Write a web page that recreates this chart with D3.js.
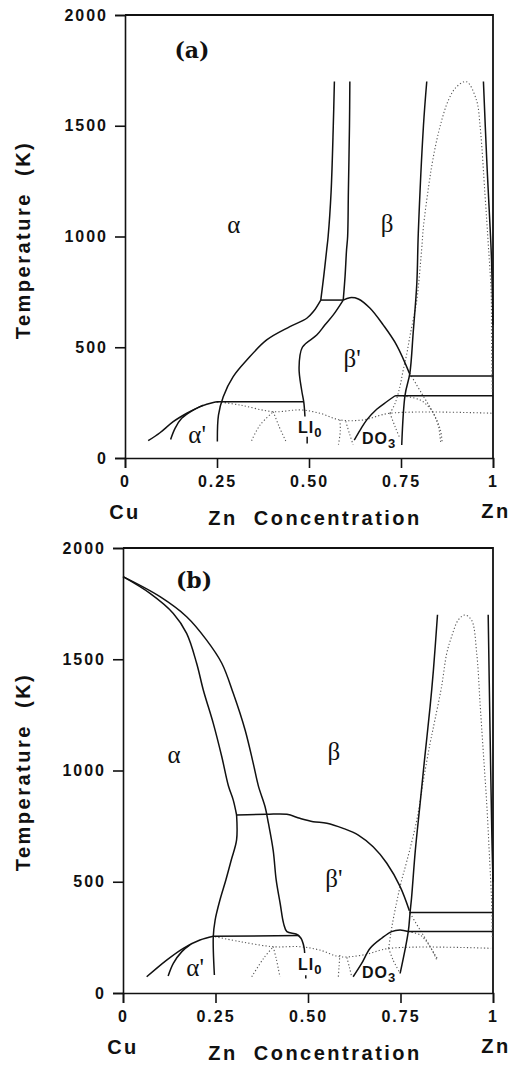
<!DOCTYPE html>
<html>
<head>
<meta charset="utf-8">
<script src="https://cdn.jsdelivr.net/npm/d3@7"></script>
<style>
  html, body { margin: 0; padding: 0; background: #fff; }
  svg { display: block; }
  .tick text { font-family: "Liberation Sans", Arial, sans-serif; font-size: 16px; font-weight: bold; letter-spacing: 2px; fill: #111; }
  .axis path, .axis line { stroke: #111; stroke-width: 1.6; }
  .frame { fill: none; stroke: #111; stroke-width: 1.8; }
  .solid { fill: none; stroke: #111; stroke-width: 1.5; }
  .dotted { fill: none; stroke: #555; stroke-width: 1.1; stroke-dasharray: 1.2,2.2; }
  .title { font-family: "Liberation Sans", Arial, sans-serif; font-weight: bold; font-size: 20px; letter-spacing: 2.5px; fill: #111; white-space: pre; }
  .greek { font-family: "Liberation Serif", "Times New Roman", serif; font-size: 25px; fill: #111; }
  .phase { font-family: "Liberation Sans", Arial, sans-serif; font-weight: bold; font-size: 16px; letter-spacing: 1px; fill: #111; }
  .panel { font-family: "DejaVu Serif", serif; font-weight: bold; font-size: 22px; fill: #111; }
</style>
</head>
<body>
<script>
// axis ticks
const tempTicks = [0, 500, 1000, 1500, 2000]
const concTicks = [0, 0.25, 0.5, 0.75, 1]
const concTickLabels = ["0", "0.25", "0.50", "0.75", "1"]

// ---- panel (a): [Zn fraction, T (K)] ----
const aBetaLeft1   = [[0.569,1700],[0.566,1500],[0.560,1200],[0.552,1000],[0.548,939],[0.540,820],[0.532,713]]
const aBetaLeft2   = [[0.611,1700],[0.610,1500],[0.607,1200],[0.605,1000],[0.602,939],[0.598,820],[0.593,713]]
const aPeritectic  = [[0.532,713],[0.593,713]]
const aAlphaLow    = [[0.532,713],[0.512,661],[0.494,631],[0.448,593],[0.385,533],[0.331,442],[0.294,367],[0.267,277],[0.254,194],[0.251,74]]
const aBpLeft      = [[0.593,713],[0.566,646],[0.543,600],[0.521,555],[0.482,500],[0.473,405],[0.480,307],[0.486,250],[0.489,187]]
const aBpTop       = [[0.593,713],[0.611,724],[0.634,718],[0.666,676],[0.702,600],[0.738,510],[0.773,382]]
const aBetaRight   = [[0.820,1700],[0.811,1500],[0.797,1015],[0.793,789],[0.783,563],[0.774,382],[0.761,284],[0.752,59]]
const aUpperH      = [[0.774,370],[1,370]]
const aLowerH      = [[0.734,281],[1,281]]
const aEutectoid   = [[0.249,254],[0.486,254]]
const aAlphaP1     = [[0.063,78],[0.095,114],[0.131,164],[0.168,202],[0.204,232],[0.240,251],[0.253,254]]
const aAlphaP2     = [[0.124,84],[0.136,134],[0.154,179],[0.181,212],[0.213,239]]
const aDO3         = [[0.623,81],[0.639,126],[0.657,172],[0.684,220],[0.711,254],[0.734,281]]
const aZnSide      = [[0.974,1700],[0.983,1345],[0.992,1044],[0.996,894],[1,600]]
const aL10Tick     = [[0.495,66],[0.495,96]]

const aDome        = [[0.720,202],[0.734,247],[0.747,322],[0.756,397],[0.766,473],[0.774,548],[0.783,623],[0.793,713],[0.806,939],[0.811,1044],[0.825,1225],[0.838,1360],[0.856,1496],[0.879,1616],[0.901,1676],[0.928,1699],[0.955,1616],[0.965,1496],[0.978,1195],[0.987,969],[0.995,744],[0.996,533],[0.998,300]]
const aDomeLow     = [[0.720,202],[0.734,141],[0.747,89]]
const aDO3RightA   = [[0.774,382],[0.806,292],[0.838,202],[0.852,141],[0.858,66]]
const aDO3RightB   = [[0.756,280],[0.802,262],[0.829,224],[0.847,172],[0.858,120],[0.862,66]]
const aL10Top      = [[0.253,254],[0.313,239],[0.403,209],[0.476,217],[0.530,202],[0.584,172],[0.648,172],[0.720,202],[1,202]]
const aL10Left     = [[0.344,78],[0.367,149],[0.403,209]]
const aL10Right    = [[0.403,209],[0.418,145],[0.439,69]]
const aL10Far      = [[0.584,172],[0.585,120],[0.580,60]]
const aDO3Left     = [[0.600,165],[0.610,110],[0.620,60]]

// ---- panel (b) ----
const bAlphaInHi   = [[0,1871],[0.073,1796],[0.136,1706],[0.172,1616],[0.199,1482],[0.217,1362],[0.244,1212],[0.267,1062],[0.285,930],[0.298,867],[0.307,800]]
const bAlphaInLo   = [[0.307,800],[0.307,688],[0.293,600],[0.278,508],[0.262,418],[0.249,328],[0.244,253],[0.247,81]]
const bAlphaOut    = [[0,1871],[0.100,1781],[0.172,1691],[0.226,1586],[0.267,1482],[0.298,1347],[0.330,1182],[0.352,1032],[0.366,930],[0.384,837],[0.393,763],[0.406,640],[0.414,508],[0.425,400],[0.434,313],[0.443,276],[0.469,264],[0.481,246],[0.489,208],[0.491,180]]
const bBpTop       = [[0.307,800],[0.388,803],[0.443,803],[0.478,785],[0.514,770],[0.551,763],[0.595,740],[0.636,710],[0.676,657],[0.713,583],[0.749,478],[0.774,370]]
const bBetaRight   = [[0.850,1700],[0.839,1452],[0.830,1287],[0.815,1050],[0.803,852],[0.790,640],[0.780,430],[0.776,365],[0.771,276],[0.749,88]]
const bUpperH      = [[0.774,362],[1,362]]
const bLowerH      = [[0.771,276],[1,276]]
const bEutectoid   = [[0.244,255],[0.475,258]]
const bAlphaP1     = [[0.064,73],[0.118,148],[0.163,201],[0.208,238],[0.244,255]]
const bAlphaP2     = [[0.122,76],[0.136,133],[0.159,186],[0.181,216]]
const bDO3         = [[0.622,73],[0.645,133],[0.668,201],[0.699,246],[0.726,276],[0.749,283],[0.771,276]]
const bZnSide      = [[0.987,1700],[0.992,1180],[0.997,700],[1,500]]
const bL10Tick     = [[0.494,65],[0.494,80]]

const bDome        = [[0.718,201],[0.726,291],[0.739,403],[0.752,500],[0.768,598],[0.794,777],[0.812,957],[0.830,1122],[0.843,1227],[0.861,1377],[0.875,1527],[0.888,1601],[0.906,1676],[0.924,1699],[0.942,1676],[0.956,1527],[0.965,1302],[0.974,1077],[0.983,852],[0.990,628],[0.996,418],[0.998,250]]
const bDomeLow     = [[0.718,201],[0.730,148],[0.749,88]]
const bDO3RightA   = [[0.776,358],[0.803,283],[0.825,223],[0.838,186],[0.852,148]]
const bDO3RightB   = [[0.771,276],[0.803,261],[0.830,208],[0.848,148]]
const bL10Top      = [[0.249,253],[0.316,231],[0.406,208],[0.478,208],[0.532,193],[0.586,163],[0.649,171],[0.722,201],[0.995,201]]
const bL10Left     = [[0.348,73],[0.380,156],[0.406,208]]
const bL10Right    = [[0.406,208],[0.415,148],[0.424,73]]
const bL10Far      = [[0.586,171],[0.584,120],[0.582,73]]
const bDO3Left     = [[0.605,160],[0.612,115],[0.618,73]]

// region labels: [text, Zn fraction, T]
const aGreek  = [["α",0.296,1016],["β",0.712,1020],["β'",0.617,411],["α'",0.196,68]]
const bGreek  = [["α",0.138,1034],["β",0.570,1047],["β'",0.570,476],["α'",0.195,76]]
const aPhases = [["LI","0",0.470,113],["DO","3",0.644,63]]
const bPhases = [["LI","0",0.473,103],["DO","3",0.646,67]]

const panels = [
  { name: "(a)", nameAt: [0.182,1806], left: 125, right: 493, top: 15, bottom: 458,
    solid: [aBetaLeft1,aBetaLeft2,aPeritectic,aAlphaLow,aBpLeft,aBpTop,aBetaRight,aUpperH,aLowerH,aEutectoid,aAlphaP1,aAlphaP2,aDO3,aZnSide,aL10Tick],
    dotted: [aDome,aDomeLow,aDO3RightA,aDO3RightB,aL10Top,aL10Left,aL10Right,aL10Far,aDO3Left],
    greek: aGreek, phases: aPhases, titleY: 240 },
  { name: "(b)", nameAt: [0.192,1820], left: 123, right: 493, top: 548, bottom: 993,
    solid: [bAlphaInHi,bAlphaInLo,bAlphaOut,bBpTop,bBetaRight,bUpperH,bLowerH,bEutectoid,bAlphaP1,bAlphaP2,bDO3,bZnSide,bL10Tick],
    dotted: [bDome,bDomeLow,bDO3RightA,bDO3RightB,bL10Top,bL10Left,bL10Right,bL10Far,bDO3Left],
    greek: bGreek, phases: bPhases, titleY: 772 }
]

let svg = d3.select("body").append("svg")
  .attr("width", 511)
  .attr("height", 1065)

svg.append("rect").attr("width", 511).attr("height", 1065).attr("fill", "#fff")

panels.forEach(function(p){
  let x = d3.scaleLinear().domain([0, 1]).range([p.left, p.right])
  let y = d3.scaleLinear().domain([0, 2000]).range([p.bottom, p.top])
  let g = svg.append("g")

  let line = d3.line()
    .x(function(d){ return x(d[0]) })
    .y(function(d){ return y(d[1]) })
    .curve(d3.curveCatmullRom.alpha(0.5))

  // frame (top + right), axes draw left + bottom
  g.append("path")
    .attr("class", "frame")
    .attr("d", "M" + p.left + "," + p.top + "H" + p.right + "V" + p.bottom)

  g.append("g")
    .attr("class", "axis")
    .attr("transform", "translate(" + p.left + ",0)")
    .call(d3.axisLeft(y).tickValues(tempTicks).tickSizeOuter(0).tickSize(10).tickPadding(7)
      .tickFormat(d3.format("d")))

  g.append("g")
    .attr("class", "axis")
    .attr("transform", "translate(0," + p.bottom + ")")
    .call(d3.axisBottom(x).tickValues(concTicks).tickSizeOuter(0).tickSize(10).tickPadding(8)
      .tickFormat(function(d, i){ return concTickLabels[i] }))

  g.selectAll(".domain").attr("stroke-width", 1.8)

  g.selectAll("path.dot")
    .data(p.dotted)
    .enter().append("path")
    .attr("class", "dotted")
    .attr("d", line)

  g.selectAll("path.sol")
    .data(p.solid)
    .enter().append("path")
    .attr("class", "solid")
    .attr("d", line)

  g.selectAll("text.greek")
    .data(p.greek)
    .enter().append("text")
    .attr("class", "greek")
    .attr("x", function(d){ return x(d[1]) })
    .attr("y", function(d){ return y(d[2]) })
    .attr("text-anchor", "middle")
    .text(function(d){ return d[0] })

  let ph = g.selectAll("text.phase")
    .data(p.phases)
    .enter().append("text")
    .attr("class", "phase")
    .attr("x", function(d){ return x(d[2]) })
    .attr("y", function(d){ return y(d[3]) })
  ph.append("tspan").text(function(d){ return d[0] })
  ph.append("tspan").attr("dy", 4).attr("font-size", 13).text(function(d){ return d[1] })

  g.append("text")
    .attr("class", "panel")
    .attr("x", x(p.nameAt[0]))
    .attr("y", y(p.nameAt[1]))
    .attr("text-anchor", "middle")
    .text(p.name)

  g.append("text")
    .attr("class", "title")
    .attr("transform", "translate(23," + p.titleY + ") rotate(-90)")
    .attr("text-anchor", "middle")
    .attr("dominant-baseline", "central")
    .text("Temperature  (K)")

  g.append("text").attr("class", "title")
    .attr("x", x(0)).attr("y", p.bottom + 61)
    .attr("text-anchor", "middle").text("Cu")
  g.append("text").attr("class", "title")
    .attr("x", 315).attr("y", p.bottom + 67)
    .attr("text-anchor", "middle").text("Zn  Concentration")
  g.append("text").attr("class", "title")
    .attr("x", 496).attr("y", p.bottom + 60)
    .attr("text-anchor", "middle").text("Zn")
})
</script>
</body>
</html>
